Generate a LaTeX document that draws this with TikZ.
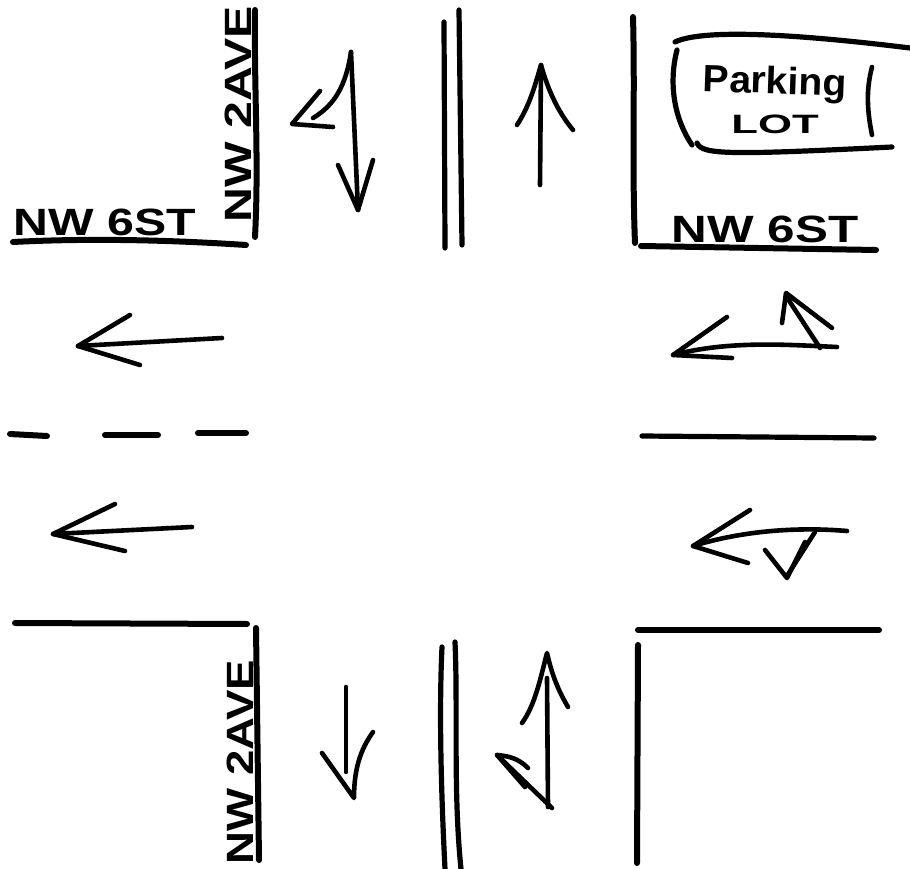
\documentclass[tikz,border=0pt]{standalone}
\usepackage{fontspec}
\setsansfont{Liberation Sans}
\usepackage{tikz}
\begin{document}
\begin{tikzpicture}[
  x=1pt,y=-1pt,
  line cap=round,line join=round,
  curb/.style={draw=black,line width=6pt},
  median/.style={draw=black,line width=5.2pt},
  pen/.style={draw=black,line width=4.6pt},
  sign/.style={font=\sffamily\bfseries\fontsize{38}{38}\selectfont,inner sep=0pt,text=black,transform shape},
  lotlabel/.style={font=\sffamily\bfseries\fontsize{38}{38}\selectfont,inner sep=0pt,text=black,transform shape}
]
\useasboundingbox (0,0) rectangle (910,869);
\fill[white] (0,0) rectangle (910,869);

% curbs
\draw[curb] (255,10) .. controls (254,90) and (259,160) .. (255,237);
\draw[curb] (13,242) .. controls (90,238) and (170,240) .. (246,245);
\draw[curb] (633,17) .. controls (635,90) and (632,170) .. (635,243);
\draw[curb] (641,246) -- (876,250);
\draw[curb] (15,623) -- (247,624);
\draw[curb] (638,630) -- (879,630);
\draw[curb] (256,628) -- (259,860);
\draw[curb] (638,645) -- (637,863);

% median
\draw[median] (444,22) -- (445,248);
\draw[median] (459,10) -- (462,245);
\draw[median] (442,647) .. controls (439,710) and (441,790) .. (445,869);
\draw[median] (455,642) .. controls (458,710) and (453,790) .. (461,869);

% centre line
\draw[curb] (10,434) -- (47,436);
\draw[curb] (105,435) -- (158,435);
\draw[curb] (198,433) -- (246,433);
\draw[median] (642,436) -- (874,438);

% parking lot
\draw[median] (675,42) .. controls (700,30) and (780,32) .. (910,48);
\draw[median] (677,50) .. controls (668,85) and (675,120) .. (692,145);
\draw[median] (697,143) .. controls (702,155) and (730,155) .. (892,147);
\draw[pen] (872,67) .. controls (866,90) and (867,110) .. (872,135);
\node[lotlabel,rotate=-2,xscale=1.03] (parking) at (775,84) {Parking};
\node[lotlabel,xscale=1.15,yscale=.7] (lot) at (775,124) {LOT};

% street names
\node[sign,xscale=1.27] (sixwest) at (105,222) {NW 6ST};
\node[sign,xscale=1.3] (sixeast) at (765,229) {NW 6ST};
\node[sign,rotate=90,xscale=1.27] (avenorth) at (238,114) {NW 2AVE};
\node[sign,rotate=90,xscale=1.2] (avesouth) at (240,762) {NW 2AVE};

% north leg
\draw[pen] (351,52) -- (358,210);
\draw[pen] (338,165) -- (358,210) -- (373,160);
\draw[pen] (351,52) .. controls (346,85) and (335,105) .. (313,118);
\draw[pen] (320,91) -- (292,124) -- (333,127);
\draw[pen] (540,185) -- (541,65);
\draw[pen] (517,125) .. controls (530,105) and (535,85) .. (541,65) .. controls (548,90) and (558,112) .. (573,130);

% west leg
\draw[pen] (222,338) -- (78,346);
\draw[pen] (130,315) -- (78,346) -- (140,365);
\draw[pen] (192,527) -- (53,534);
\draw[pen] (115,504) -- (53,534) -- (125,551);

% east leg
\draw[pen] (837,347) .. controls (790,345) and (730,340) .. (673,355);
\draw[pen] (727,317) -- (673,355) -- (732,358);
\draw[pen] (820,348) -- (786,296);
\draw[pen] (782,323) -- (786,293) -- (832,328);
\draw[pen] (847,531) .. controls (800,527) and (745,530) .. (693,546);
\draw[pen] (750,510) -- (693,546) -- (748,563);
\draw[pen] (815,532) -- (787,576);
\draw[pen] (765,550) -- (787,578) -- (805,542);

% south leg
\draw[pen] (346,687) -- (346,772);
\draw[pen] (322,753) -- (354,798) .. controls (354,770) and (360,750) .. (373,732);
\draw[pen] (547,678) -- (548,807);
\draw[pen] (522,723) .. controls (535,705) and (540,680) .. (547,653) .. controls (552,675) and (558,690) .. (568,707);
\draw[pen] (552,808) -- (497,755);
\draw[pen] (528,768) .. controls (518,758) and (508,756) .. (497,755) -- (525,787);
\end{tikzpicture}
\end{document}
